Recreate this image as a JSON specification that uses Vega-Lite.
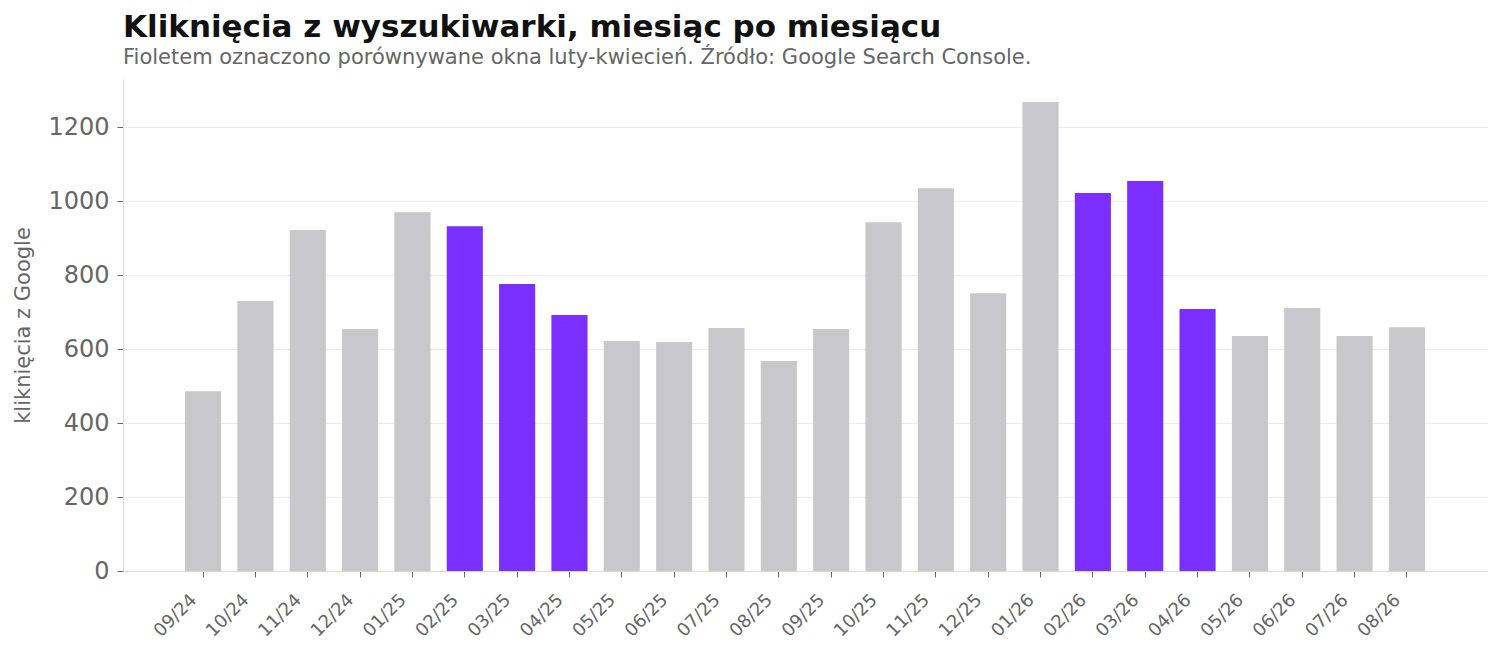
{
  "$schema": "https://vega.github.io/schema/vega-lite/v6.json",
  "width": 1364,
  "height": 492,
  "autosize": {"type": "none"},
  "padding": {"left": 123, "top": 79, "right": 15, "bottom": 84},
  "background": "white",
  "title": {
    "text": "Kliknięcia z wyszukiwarki, miesiąc po miesiącu",
    "subtitle": "Fioletem oznaczono porównywane okna luty-kwiecień. Źródło: Google Search Console.",
    "anchor": "start",
    "frame": "group",
    "font": "DejaVu Sans",
    "fontSize": 31,
    "fontWeight": "bold",
    "color": "#111111",
    "subtitleFont": "DejaVu Sans",
    "subtitleFontSize": 21,
    "subtitleColor": "#666666",
    "subtitlePadding": 3,
    "offset": 10
  },
  "data": {
    "values": [
      {"miesiac": "09/24", "klikniecia": 486, "okno": "inne"},
      {"miesiac": "10/24", "klikniecia": 730, "okno": "inne"},
      {"miesiac": "11/24", "klikniecia": 922, "okno": "inne"},
      {"miesiac": "12/24", "klikniecia": 654, "okno": "inne"},
      {"miesiac": "01/25", "klikniecia": 970, "okno": "inne"},
      {"miesiac": "02/25", "klikniecia": 932, "okno": "luty-kwiecień"},
      {"miesiac": "03/25", "klikniecia": 776, "okno": "luty-kwiecień"},
      {"miesiac": "04/25", "klikniecia": 692, "okno": "luty-kwiecień"},
      {"miesiac": "05/25", "klikniecia": 622, "okno": "inne"},
      {"miesiac": "06/25", "klikniecia": 619, "okno": "inne"},
      {"miesiac": "07/25", "klikniecia": 657, "okno": "inne"},
      {"miesiac": "08/25", "klikniecia": 568, "okno": "inne"},
      {"miesiac": "09/25", "klikniecia": 654, "okno": "inne"},
      {"miesiac": "10/25", "klikniecia": 943, "okno": "inne"},
      {"miesiac": "11/25", "klikniecia": 1035, "okno": "inne"},
      {"miesiac": "12/25", "klikniecia": 751, "okno": "inne"},
      {"miesiac": "01/26", "klikniecia": 1268, "okno": "inne"},
      {"miesiac": "02/26", "klikniecia": 1022, "okno": "luty-kwiecień"},
      {"miesiac": "03/26", "klikniecia": 1054, "okno": "luty-kwiecień"},
      {"miesiac": "04/26", "klikniecia": 708, "okno": "luty-kwiecień"},
      {"miesiac": "05/26", "klikniecia": 635, "okno": "inne"},
      {"miesiac": "06/26", "klikniecia": 711, "okno": "inne"},
      {"miesiac": "07/26", "klikniecia": 635, "okno": "inne"},
      {"miesiac": "08/26", "klikniecia": 659, "okno": "inne"}
    ]
  },
  "mark": {"type": "bar"},
  "encoding": {
    "x": {
      "field": "miesiac",
      "type": "ordinal",
      "sort": null,
      "title": null,
      "scale": {
        "domain": ["pre", "09/24", "10/24", "11/24", "12/24", "01/25", "02/25", "03/25", "04/25", "05/25", "06/25", "07/25", "08/25", "09/25", "10/25", "11/25", "12/25", "01/26", "02/26", "03/26", "04/26", "05/26", "06/26", "07/26", "08/26", "post"],
        "paddingInner": 0.31,
        "paddingOuter": 0.185
      },
      "axis": {
        "values": ["09/24", "10/24", "11/24", "12/24", "01/25", "02/25", "03/25", "04/25", "05/25", "06/25", "07/25", "08/25", "09/25", "10/25", "11/25", "12/25", "01/26", "02/26", "03/26", "04/26", "05/26", "06/26", "07/26", "08/26"],
        "labelAngle": -45,
        "labelAlign": "right",
        "labelBaseline": "middle",
        "labelFont": "DejaVu Sans",
        "labelFontSize": 18,
        "labelColor": "#666666",
        "labelPadding": 20,
        "labelOffset": -9,
        "tickColor": "#666666",
        "tickSize": 6,
        "domainColor": "#d9d9d9",
        "grid": false
      }
    },
    "y": {
      "field": "klikniecia",
      "type": "quantitative",
      "title": "kliknięcia z Google",
      "scale": {"domain": [0, 1330], "nice": false},
      "axis": {
        "values": [0, 200, 400, 600, 800, 1000, 1200],
        "format": "d",
        "labelFont": "DejaVu Sans",
        "labelFontSize": 24,
        "labelColor": "#666666",
        "labelPadding": 8,
        "tickColor": "#666666",
        "tickSize": 6,
        "domainColor": "#d9d9d9",
        "gridColor": "#ececec",
        "titleFont": "DejaVu Sans",
        "titleFontSize": 21,
        "titleFontWeight": "normal",
        "titleColor": "#666666",
        "titlePadding": 14
      }
    },
    "color": {
      "field": "okno",
      "type": "nominal",
      "scale": {"domain": ["inne", "luty-kwiecień"], "range": ["#c8c8cc", "#7b2fff"]},
      "legend": null
    }
  },
  "config": {
    "view": {"stroke": null}
  }
}
